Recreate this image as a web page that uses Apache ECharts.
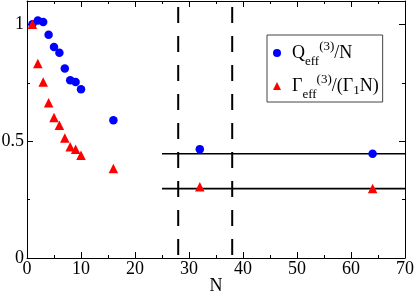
<!DOCTYPE html>
<html><head><meta charset="utf-8">
<script src="https://cdn.jsdelivr.net/npm/echarts@6/dist/echarts.min.js"></script>
<style>html,body{margin:0;padding:0;background:#fff}#c{width:415px;height:293px}</style>
</head><body><div id="c"></div>
<script>
// ---- data ----
const nValues = [1, 2, 3, 4, 5, 6, 7, 8, 9, 10, 16, 32, 64];
const qValues = [1.0, 1.017, 1.01, 0.956, 0.903, 0.879, 0.811, 0.761, 0.753, 0.722, 0.590, 0.466, 0.446];
const gValues = [1.0, 0.832, 0.753, 0.664, 0.601, 0.568, 0.514, 0.476, 0.466, 0.440, 0.383, 0.305, 0.298];
const levelQ = 0.446;
const levelG = 0.297;
const levelRange = [25, 70];
const dashedN = [28, 38];
const xRange = [0, 70];
const yRange = [0, 1.1];
const yLabelValues = [0, 0.5, 1];
const yLabelTexts = ['0', '0.5', '1'];
const seriesNames = ['Qeff(3)/N', 'Γeff(3)/(Γ1N)'];

// ---- styles ----
const FF = 'Liberation Serif';
const BLACK = '#000';

function xAx(pos, labels) {
  return {
    type: 'value', position: pos, min: xRange[0], max: xRange[1], interval: 10,
    axisLine: { show: true, onZero: false, lineStyle: { color: BLACK, width: 1 } },
    axisTick: { show: true, inside: true, length: 6, lineStyle: { color: BLACK, width: 1 } },
    minorTick: { show: true, splitNumber: 2, length: 3, lineStyle: { color: BLACK, width: 1 } },
    splitLine: { show: false }, minorSplitLine: { show: false },
    axisLabel: { show: labels, color: BLACK, fontFamily: FF, fontSize: 18, margin: 2 },
    name: labels ? 'N' : '', nameLocation: 'middle', nameGap: 19, nameMoveOverlap: false,
    nameTextStyle: { color: BLACK, fontFamily: FF, fontSize: 18 }
  };
}
function yAx(pos, interval, tickLen, labels, line) {
  return {
    type: 'value', position: pos, min: yRange[0], max: yRange[1], interval: interval,
    axisLine: { show: line, onZero: false, lineStyle: { color: BLACK, width: 1 } },
    axisTick: { show: true, inside: true, length: tickLen, lineStyle: { color: BLACK, width: 1 } },
    splitLine: { show: false },
    axisLabel: {
      show: labels, color: BLACK, fontFamily: FF, fontSize: 18, margin: 3,
      showMaxLabel: false,
      formatter: function (v) {
        const i = yLabelValues.findIndex(function (t) { return Math.abs(t - v) < 1e-9; });
        return i >= 0 ? yLabelTexts[i] : '';
      }
    }
  };
}

const series = [];
dashedN.forEach(function (x) {
  series.push({
    type: 'line', data: [[x, yRange[1]], [x, yRange[0]]], symbol: 'none', silent: true,
    lineStyle: { color: BLACK, width: 2, type: [16, 13], dashOffset: 23 }, z: 1
  });
});
[levelQ, levelG].forEach(function (y) {
  series.push({
    type: 'line', data: [[levelRange[0], y], [levelRange[1], y]], symbol: 'none', silent: true,
    lineStyle: { color: BLACK, width: 1.6 }, z: 1
  });
});
series.push({
  name: seriesNames[0], type: 'scatter', symbol: 'circle', symbolSize: 8.5,
  itemStyle: { color: '#0000ff', opacity: 1 },
  data: nValues.map(function (n, i) { return [n, qValues[i]]; }), z: 3
});
series.push({
  name: seriesNames[1], type: 'scatter', symbol: 'triangle', symbolSize: 9.5,
  itemStyle: { color: '#ff0000', opacity: 1 },
  data: nValues.map(function (n, i) { return [n, gValues[i]]; }), z: 4
});

const richBase = { fontFamily: FF, color: BLACK };
const option = {
  animation: false,
  backgroundColor: '#fff',
  textStyle: { fontFamily: FF },
  grid: { left: 27, right: 10, top: 1, bottom: 35, containLabel: false, outerBoundsMode: 'none' },
  xAxis: [xAx('bottom', true), xAx('top', false)],
  yAxis: [
    yAx('left', 0.5, 6, true, true),
    yAx('left', 0.25, 3, false, false),
    yAx('right', 0.5, 6, false, true),
    yAx('right', 0.25, 3, false, false)
  ],
  legend: {
    left: 267, top: 35, orient: 'vertical',
    itemWidth: 8, itemHeight: 8, itemGap: 3,
    padding: [3, 4, 1, 6],
    borderColor: '#444', borderWidth: 1, backgroundColor: '#fff',
    selectedMode: false,
    data: [{ name: seriesNames[0], icon: 'circle' }, { name: seriesNames[1], icon: 'triangle' }],
    formatter: function (name) {
      if (name === seriesNames[0]) return '{m0|Q}{sub|eff}{sup|(3)}{m|/N}';
      return '{m0|Γ}{sub|eff}{sup|(3)}{m|/(Γ}{sub2|1}{m|N)}';
    },
    textStyle: {
      fontFamily: FF, fontSize: 18, color: BLACK,
      rich: {
        m: Object.assign({ fontSize: 18, lineHeight: 30, verticalAlign: 'middle' }, richBase),
        m0: Object.assign({ fontSize: 18, lineHeight: 30, verticalAlign: 'middle', padding: [0, 0, 0, 6] }, richBase),
        sub: Object.assign({ fontSize: 13, lineHeight: 13, verticalAlign: 'bottom' }, richBase),
        sup: Object.assign({ fontSize: 13, lineHeight: 13, verticalAlign: 'top', padding: [2, 0, 0, 0] }, richBase),
        sub2: Object.assign({ fontSize: 13, lineHeight: 13, verticalAlign: 'middle', padding: [10, 0, 0, 0] }, richBase)
      }
    }
  },
  series: series
};

const chart = echarts.init(document.getElementById('c'), null, { renderer: 'canvas' });
chart.setOption(option);
</script>
</body></html>
